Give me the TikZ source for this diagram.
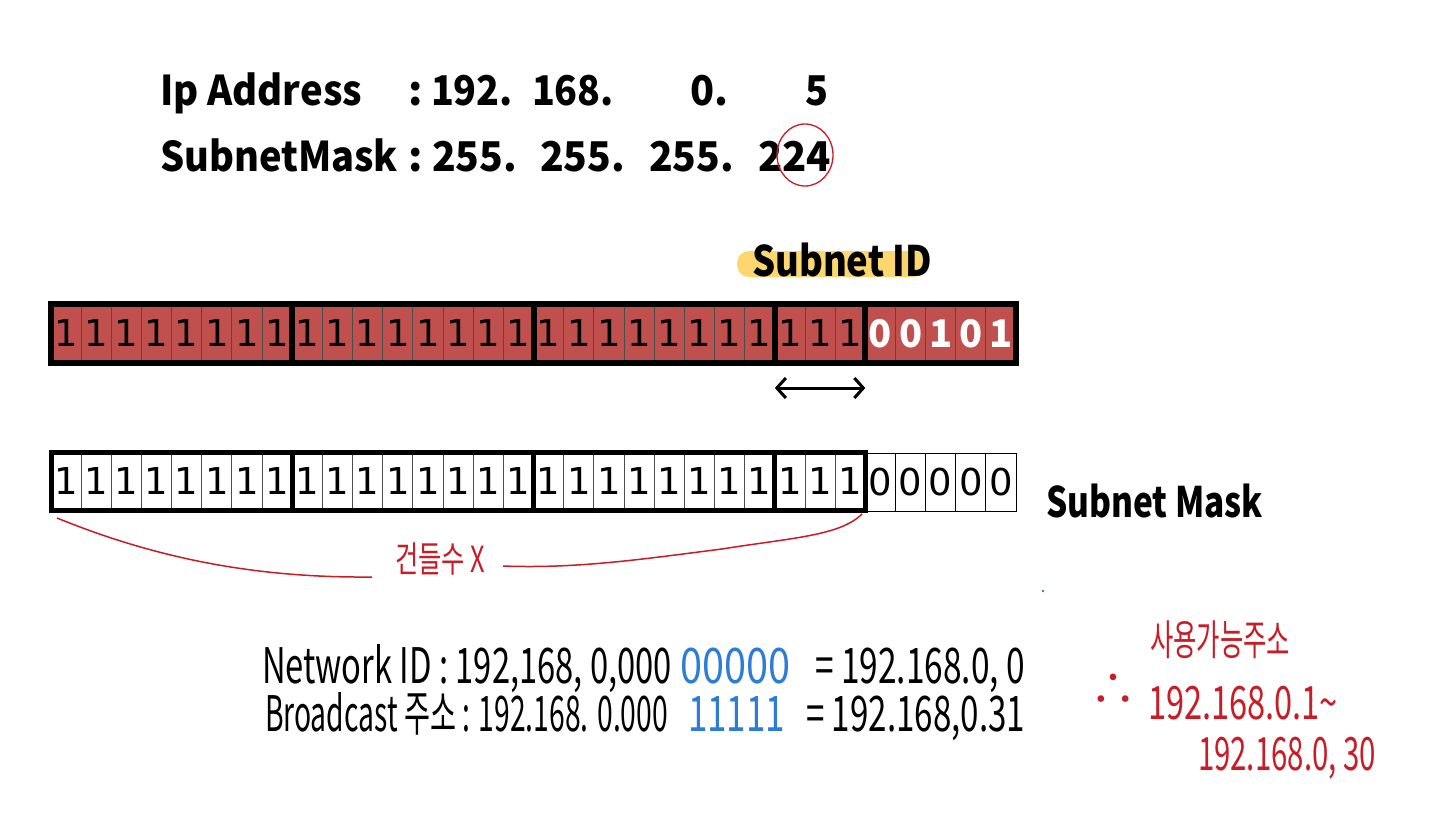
\documentclass[tikz,border=0pt]{standalone}
\usepackage{fontspec}
\usepackage{graphicx}
\usetikzlibrary{arrows.meta,shapes.geometric}
\newfontfamily\kr{Noto Sans CJK KR}
\newfontfamily\bitsf{DejaVu Sans}
\newcommand{\tw}[2]{\resizebox{#1}{\height}{#2}}
\definecolor{cellred}{RGB}{192,80,77}
\definecolor{inkred}{RGB}{200,28,38}
\definecolor{inkblue}{RGB}{45,125,215}
\definecolor{hlyellow}{RGB}{252,214,110}
\begin{document}
\begin{tikzpicture}[x=1pt,y=-1pt,
  every node/.style={inner sep=0pt,outer sep=0pt},
  cellbox/.style={minimum width=30.16pt,minimum height=59pt,draw=black!70,line width=1pt,
    font=\bitsf\fontsize{37}{37}\selectfont,anchor=west},
  grp/.style={draw=black,line width=6pt},
  grpb/.style={draw=black,line width=5pt},
  toptext/.style={font=\kr\bfseries\fontsize{41}{41}\selectfont,anchor=base west},
  labtext/.style={font=\kr\bfseries\fontsize{42}{42}\selectfont,anchor=base west},
  hand/.style={font=\kr\fontsize{49}{49}\selectfont,anchor=base west},
  redhand/.style={font=\kr\fontsize{46}{46}\selectfont,anchor=base west,text=inkred},
  bluehand/.style={font=\kr\fontsize{49}{49}\selectfont,anchor=base west,text=inkblue},
  inkline/.style={draw=inkred,line width=1.5pt},
  dblarrow/.style={line width=3pt,{Straight Barb[length=9pt,width=20pt]}-{Straight Barb[length=9pt,width=20pt]}}
]
\useasboundingbox[fill=white] (0,0) rectangle (1440,819);

% ---- top text ----
\node[toptext] (ipl) at (160,105) {\tw{202pt}{Ip Address}};
\node[toptext] (ipc) at (408,105) {:};
\node[toptext] (ip1) at (431,105) {\tw{82pt}{192.}};
\node[toptext] (ip2) at (532,105) {\tw{82pt}{168.}};
\node[toptext] (ip3) at (690,105) {\tw{38pt}{0.}};
\node[toptext] (ip4) at (805,105) {\tw{23pt}{5}};
\node[toptext] (sml) at (160,171) {\tw{238pt}{SubnetMask}};
\node[toptext] (smc) at (408,171) {:};
\node[toptext] (sm1) at (432,171) {\tw{85pt}{255.}};
\node[toptext] (sm2) at (540,171) {\tw{85pt}{255.}};
\node[toptext] (sm3) at (649,171) {\tw{85pt}{255.}};
\node[toptext] (sm4) at (758,171) {\tw{73pt}{224}};
\node[draw=inkred,line width=1.3pt,ellipse,minimum width=56pt,minimum height=62pt] (circ) at (805,155) {};

% ---- Subnet ID label ----
\fill[hlyellow,rounded corners=12pt] (737,251) rectangle (926,277);
\node[labtext] (sid) at (752,276) {\tw{180pt}{Subnet ID}};

% ---- red row ----
\foreach \i in {1,...,27}{
  \node[cellbox,fill=cellred] (r\i) at ({51+(\i-1)*30.16},333.5) {1};
}
\foreach \i/\d in {28/0,29/0,30/1,31/0,32/1}{
  \node[cellbox,fill=cellred,text=white,font=\kr\bfseries\fontsize{38}{38}\selectfont] (r\i) at ({51+(\i-1)*30.16},333.5) {\d};
}
\draw[grp] (r1.north west) rectangle (r8.south east);
\draw[grp] (r9.north west) rectangle (r16.south east);
\draw[grp] (r17.north west) rectangle (r24.south east);
\draw[grp] (r25.north west) rectangle (r27.south east);
\draw[grp] (r28.north west) rectangle (r32.south east);

\draw[dblarrow] ([yshift=-25pt]r25.south west) -- ([yshift=-25pt]r27.south east);

% ---- mask row ----
\foreach \i in {1,...,27}{
  \node[cellbox,fill=white,minimum height=58pt] (b\i) at ({51+(\i-1)*30.16},481.5) {1};
}
\foreach \i in {28,...,32}{
  \node[cellbox,fill=white,draw=black,minimum height=58pt] (b\i) at ({51+(\i-1)*30.16},482) {0};
}
\draw[grpb] (b1.north west) rectangle (b8.south east);
\draw[grpb] (b9.north west) rectangle (b16.south east);
\draw[grpb] (b17.north west) rectangle (b24.south east);
\draw[grpb] (b25.north west) rectangle (b27.south east);

\node[labtext] (smk) at (1046,517) {\tw{217pt}{Subnet Mask}};

% ---- red bracket ----
\coordinate (c1) at (57,518);
\coordinate (c2) at (372,577);
\coordinate (c3) at (503,566);
\coordinate (c4) at (862,514);
\node[redhand,font=\kr\fontsize{36}{36}\selectfont] (keep) at (395,572) {\tw{90pt}{건들수 X}};
\draw[inkline] (c1) .. controls (160,560) and (260,578) .. (c2);
\draw[inkline] (c3) .. controls (580,569) and (650,558) .. (722,549) .. controls (790,538) and (840,536) .. (c4);

\fill[inkblue] (1043,591) circle (1.3);

% ---- handwritten lines ----
\node[hand] (n1) at (262,683) {\tw{410pt}{Network ID : 192,168, 0,000}};
\node[bluehand] (n2) at (680,683) {\tw{110pt}{00000}};
\node[hand] (n3) at (815,683) {\tw{210pt}{= 192.168.0, 0}};
\node[hand] (bc1) at (265,731) {\tw{403pt}{Broadcast 주소 : 192.168. 0.000}};
\node[bluehand] (bc2) at (688,731) {\tw{97pt}{11111}};
\node[hand] (bc3) at (806,731) {\tw{219pt}{= 192.168,0.31}};

% ---- usable addresses ----
\node[redhand,font=\kr\fontsize{42}{42}\selectfont] (ua) at (1150,655) {\tw{140pt}{사용가능주소}};
\node[redhand,anchor=center] (thf) at (1113,690) {∴};
\node[redhand] (ua1) at (1148,719) {\tw{190pt}{192.168.0.1\textasciitilde}};
\node[redhand] (ua2) at (1198,770) {\tw{178pt}{192.168.0, 30}};
\end{tikzpicture}
\end{document}
